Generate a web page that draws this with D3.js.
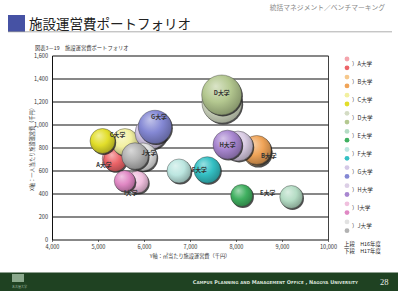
<!DOCTYPE html>
<html lang="ja">
<head>
<meta charset="UTF-8">
<title>施設運営費ポートフォリオ</title>
<style>
body { margin: 0; background: #fff; font-family: 'Noto Sans CJK JP', sans-serif; }
svg { display: block; }
</style>
</head>
<body>
<div id="chart"></div>
<script src="https://cdnjs.cloudflare.com/ajax/libs/d3/7.8.5/d3.min.js"></script>
<script>

// data: one entry per university, H16 (上段) and H17 (下段)
var universities = ["A大学", "B大学", "C大学", "D大学", "E大学", "F大学", "G大学", "H大学", "I大学", "J大学"];
// x: ㎡当たり施設運営費 (千円)
var xH16 = [5330, 8450, 5576, 7685, 9191, 6750, 6141, 8033, 5848, 5967];
var xH17 = [5359, 8439, 5087, 7678, 8113, 7365, 6228, 7804, 5570, 5793];
// y: 一人当たり施設運営費 (千円)
var yH16 = [710, 765, 852, 1191, 374, 600, 930, 817, 504, 722];
var yH17 = [696, 783, 861, 1261, 387, 609, 983, 829, 513, 730];
// bubble size (relative)
var sizeH16 = [130, 200, 180, 400, 132, 145, 256, 225, 121, 196];
var sizeH17 = [132, 210, 156, 400, 121, 177, 279, 210, 110, 177];

var xTicks = [4000, 5000, 6000, 7000, 8000, 9000, 10000];
var yTicks = [0, 200, 400, 600, 800, 1000, 1200, 1400, 1600];

var colH16 = ["#f4a4ac", "#f6c88c", "#f2f0a0", "#d4dcc4", "#b4dcc4", "#bce6e0", "#d4c8e6", "#dccfe6", "#f0c0de", "#e2e2e2"];
var colH17 = ["#ec6468", "#f0a458", "#e2de2a", "#b4c890", "#40b060", "#34c0c4", "#8488d4", "#a886d0", "#e088c4", "#b2b2b2"];

// label offset from H17 bubble centre, px
var labelOff = [[-11, 5], [12, 6], [15, -6], [0, -2], [26, -2], [-8, 0], [4, -10], [0, 0], [6, 12], [14, -3]];

var W = 398, H = 291;
var svg = d3.select("#chart").append("svg").attr("width", W).attr("height", H);
var defs = svg.append("defs");

// header
svg.append("text").attr("x", 385).attr("y", 10).attr("text-anchor", "end")
  .attr("font-size", 6.8).attr("fill", "#888").text("統括マネジメント／ベンチマーキング");
svg.append("rect").attr("x", 8).attr("y", 15).attr("width", 17).attr("height", 17).attr("fill", "#4652a4");
svg.append("line").attr("x1", 8).attr("x2", 392).attr("y1", 31.8).attr("y2", 31.8)
  .attr("stroke", "#999").attr("stroke-width", 0.8);
svg.append("text").attr("x", 29).attr("y", 29).attr("font-size", 13.5).attr("fill", "#222")
  .text("施設運営費ポートフォリオ");
svg.append("text").attr("x", 35).attr("y", 50).attr("font-size", 5.3).attr("fill", "#333")
  .text("図表3－19　施設運営費ポートフォリオ");

// plot
var x = d3.scaleLinear().domain([4000, 10000]).range([52.5, 328.5]);
var y = d3.scaleLinear().domain([0, 1600]).range([240, 56]);
var r = d3.scaleSqrt().domain([0, 400]).range([0, 20]);

var g = svg.append("g");
g.selectAll(".grid").data(yTicks).enter().append("line")
  .attr("x1", x(4000)).attr("x2", x(10000))
  .attr("y1", function (d) { return y(d); }).attr("y2", function (d) { return y(d); })
  .attr("stroke", "#111").attr("stroke-width", function (d) { return d === 0 ? 1 : 1.2; });
g.append("line").attr("x1", x(4000)).attr("x2", x(4000)).attr("y1", y(0)).attr("y2", y(1600))
  .attr("stroke", "#111").attr("stroke-width", 1);
g.append("line").attr("x1", x(10000)).attr("x2", x(10000)).attr("y1", y(0)).attr("y2", y(1600))
  .attr("stroke", "#111").attr("stroke-width", 0.8);

g.selectAll(".ytick").data(yTicks).enter().append("text")
  .attr("x", 48).attr("y", function (d) { return y(d) + 2; })
  .attr("text-anchor", "end").attr("font-size", 5.6).attr("fill", "#333")
  .text(d3.format(","));
g.selectAll(".xtickmark").data(xTicks).enter().append("line")
  .attr("x1", function (d) { return x(d); }).attr("x2", function (d) { return x(d); })
  .attr("y1", y(0)).attr("y2", y(0) + 2).attr("stroke", "#111").attr("stroke-width", 0.6);
g.selectAll(".xtick").data(xTicks).enter().append("text")
  .attr("x", function (d) { return x(d); }).attr("y", 249)
  .attr("text-anchor", "middle").attr("font-size", 5.6).attr("fill", "#333")
  .text(d3.format(","));

svg.append("text").attr("x", 190).attr("y", 258).attr("text-anchor", "middle")
  .attr("font-size", 5.2).attr("fill", "#333").text("Y軸：㎡当たり施設運営費（千円）");
svg.append("text").attr("transform", "translate(34,148) rotate(-90)").attr("text-anchor", "middle")
  .attr("font-size", 5.2).attr("fill", "#333").text("X軸：一人当たり施設運営費（千円）");

// bubbles
function grad(id, c) {
  var lg = defs.append("radialGradient").attr("id", id)
    .attr("cx", "42%").attr("cy", "38%").attr("r", "62%").attr("fx", "35%").attr("fy", "28%");
  lg.append("stop").attr("offset", "0%").attr("stop-color", d3.interpolateRgb(c, "#fff")(0.5));
  lg.append("stop").attr("offset", "55%").attr("stop-color", c);
  lg.append("stop").attr("offset", "100%").attr("stop-color", d3.interpolateRgb(c, "#000")(0.25));
}

var bubbles = [];
universities.forEach(function (u, i) {
  grad("g16_" + i, colH16[i]);
  grad("g17_" + i, colH17[i]);
  bubbles.push({ id: "g16_" + i, x: xH16[i], y: yH16[i], s: sizeH16[i] });
  bubbles.push({ id: "g17_" + i, x: xH17[i], y: yH17[i], s: sizeH17[i] });
});

var bg = svg.append("g");
bubbles.forEach(function (b) {
  bg.append("circle").attr("cx", x(b.x) + 1.2).attr("cy", y(b.y) + 1.4).attr("r", r(b.s))
    .attr("fill", "#222").attr("opacity", 0.8);
  bg.append("circle").attr("cx", x(b.x)).attr("cy", y(b.y)).attr("r", r(b.s))
    .attr("fill", "url(#" + b.id + ")").attr("stroke", "#333").attr("stroke-width", 0.4);
});

svg.selectAll(".blabel").data(universities).enter().append("text")
  .attr("x", function (d, i) { return x(xH17[i]) + labelOff[i][0]; })
  .attr("y", function (d, i) { return y(yH17[i]) + labelOff[i][1] + 2; })
  .attr("text-anchor", "middle").attr("font-size", 5.8).attr("font-weight", "bold").attr("fill", "#333")
  .text(function (d) { return d; });

// legend
var lg = svg.append("g");
universities.forEach(function (u, i) {
  var y0 = 59 + i * 18.1;
  lg.append("circle").attr("cx", 347).attr("cy", y0).attr("r", 2.4).attr("fill", colH16[i]);
  lg.append("circle").attr("cx", 347).attr("cy", y0 + 8.8).attr("r", 2.4).attr("fill", colH17[i]);
  lg.append("text").attr("x", 352).attr("y", y0 + 6.5).attr("font-size", 5.6).attr("fill", "#333")
    .text("）" + u);
});
lg.append("text").attr("x", 344).attr("y", 246).attr("font-size", 5.4).attr("fill", "#222")
  .text("上段　H16年度");
lg.append("text").attr("x", 344).attr("y", 253).attr("font-size", 5.4).attr("fill", "#222")
  .text("下段　H17年度");

// footer
svg.append("rect").attr("x", 0).attr("y", 272.5).attr("width", W).attr("height", H - 272.5).attr("fill", "#1f4222");
svg.append("rect").attr("x", 12).attr("y", 274).attr("width", 12).attr("height", 8).attr("fill", "#8aa88c");
svg.append("text").attr("x", 12).attr("y", 288).attr("font-size", 3).attr("fill", "#9ab09c").text("名古屋大学");
svg.append("text").attr("x", 358).attr("y", 284).attr("text-anchor", "end")
  .attr("font-family", "'DejaVu Sans', sans-serif").attr("font-size", 5).attr("font-weight", "bold")
  .attr("fill", "#d8e0d8").style("font-variant", "small-caps")
  .text("Campus Planning and Management Office , Nagoya University");
svg.append("text").attr("x", 380).attr("y", 285).attr("font-family", "'Liberation Serif', serif")
  .attr("font-size", 8.5).attr("fill", "#e8ece8").text("28");

</script>
</body>
</html>
